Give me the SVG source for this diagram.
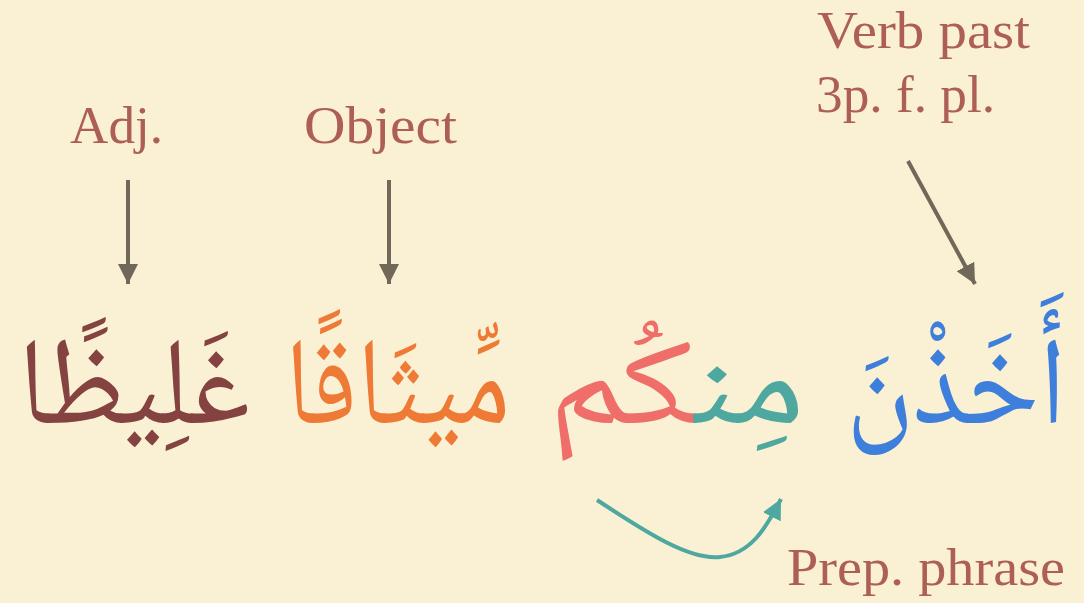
<svg xmlns="http://www.w3.org/2000/svg" width="1084" height="603" viewBox="0 0 1084 603">
<defs>
<style>
.lbl{font-family:"Liberation Serif","Times New Roman",serif;fill:#ad5f55;font-size:53px}
.ar{font-family:"Noto Naskh Arabic","Noto Sans Arabic","DejaVu Sans",sans-serif;font-size:124px}
.arr{stroke:#706858;stroke-width:4;fill:none}
</style>
<marker id="ah" viewBox="0 0 10 10" refX="10" refY="5" markerWidth="5" markerHeight="5" markerUnits="strokeWidth" orient="auto">
<path d="M0,0 L10,5 L0,10 z" fill="#706858"/>
</marker>
<marker id="aht" viewBox="0 0 10 10" refX="10" refY="5" markerWidth="5" markerHeight="5" markerUnits="strokeWidth" orient="auto">
<path d="M0,0 L10,5 L0,10 z" fill="#4ea8a0"/>
</marker>
</defs>
<rect width="1084" height="603" fill="#faf0d3"/>
<g id="labels">
<text class="lbl" x="70" y="143" textLength="93" lengthAdjust="spacingAndGlyphs">Adj.</text>
<text class="lbl" x="304" y="143" textLength="153" lengthAdjust="spacingAndGlyphs">Object</text>
<text class="lbl" x="817" y="48" textLength="213" lengthAdjust="spacingAndGlyphs">Verb past</text>
<text class="lbl" x="816" y="112" textLength="179" lengthAdjust="spacingAndGlyphs">3p. f. pl.</text>
<text class="lbl" x="787" y="585" textLength="278" lengthAdjust="spacingAndGlyphs">Prep. phrase</text>
</g>
<g id="words">
<text id="verb" class="ar" x="846" y="423" fill="#3f7fdc" textLength="220" lengthAdjust="spacingAndGlyphs">أَخَذْنَ</text>
<text id="prep" class="ar" x="548" y="423" textLength="257" lengthAdjust="spacingAndGlyphs"><tspan fill="#4ea8a0">مِن</tspan><tspan fill="#ef6e69">كُم</tspan></text>
<text id="object" class="ar" x="285" y="423" fill="#ee7a35" textLength="225" lengthAdjust="spacingAndGlyphs">مِّيثَاقًا</text>
<text id="adj" class="ar" x="18" y="423" fill="#844240" textLength="232" lengthAdjust="spacingAndGlyphs">غَلِيظًا</text>
</g>
<g id="connectors">
<line class="arr" x1="128" y1="180" x2="128" y2="284" marker-end="url(#ah)"/>
<line class="arr" x1="389" y1="180" x2="389" y2="284" marker-end="url(#ah)"/>
<line class="arr" x1="908" y1="161" x2="975" y2="284" marker-end="url(#ah)"/>
<path d="M597,500 C650,535 690,560 720,557 C750,554 765,530 781,499" stroke="#4ea8a0" stroke-width="4" fill="none" marker-end="url(#aht)"/>
</g>
</svg>
